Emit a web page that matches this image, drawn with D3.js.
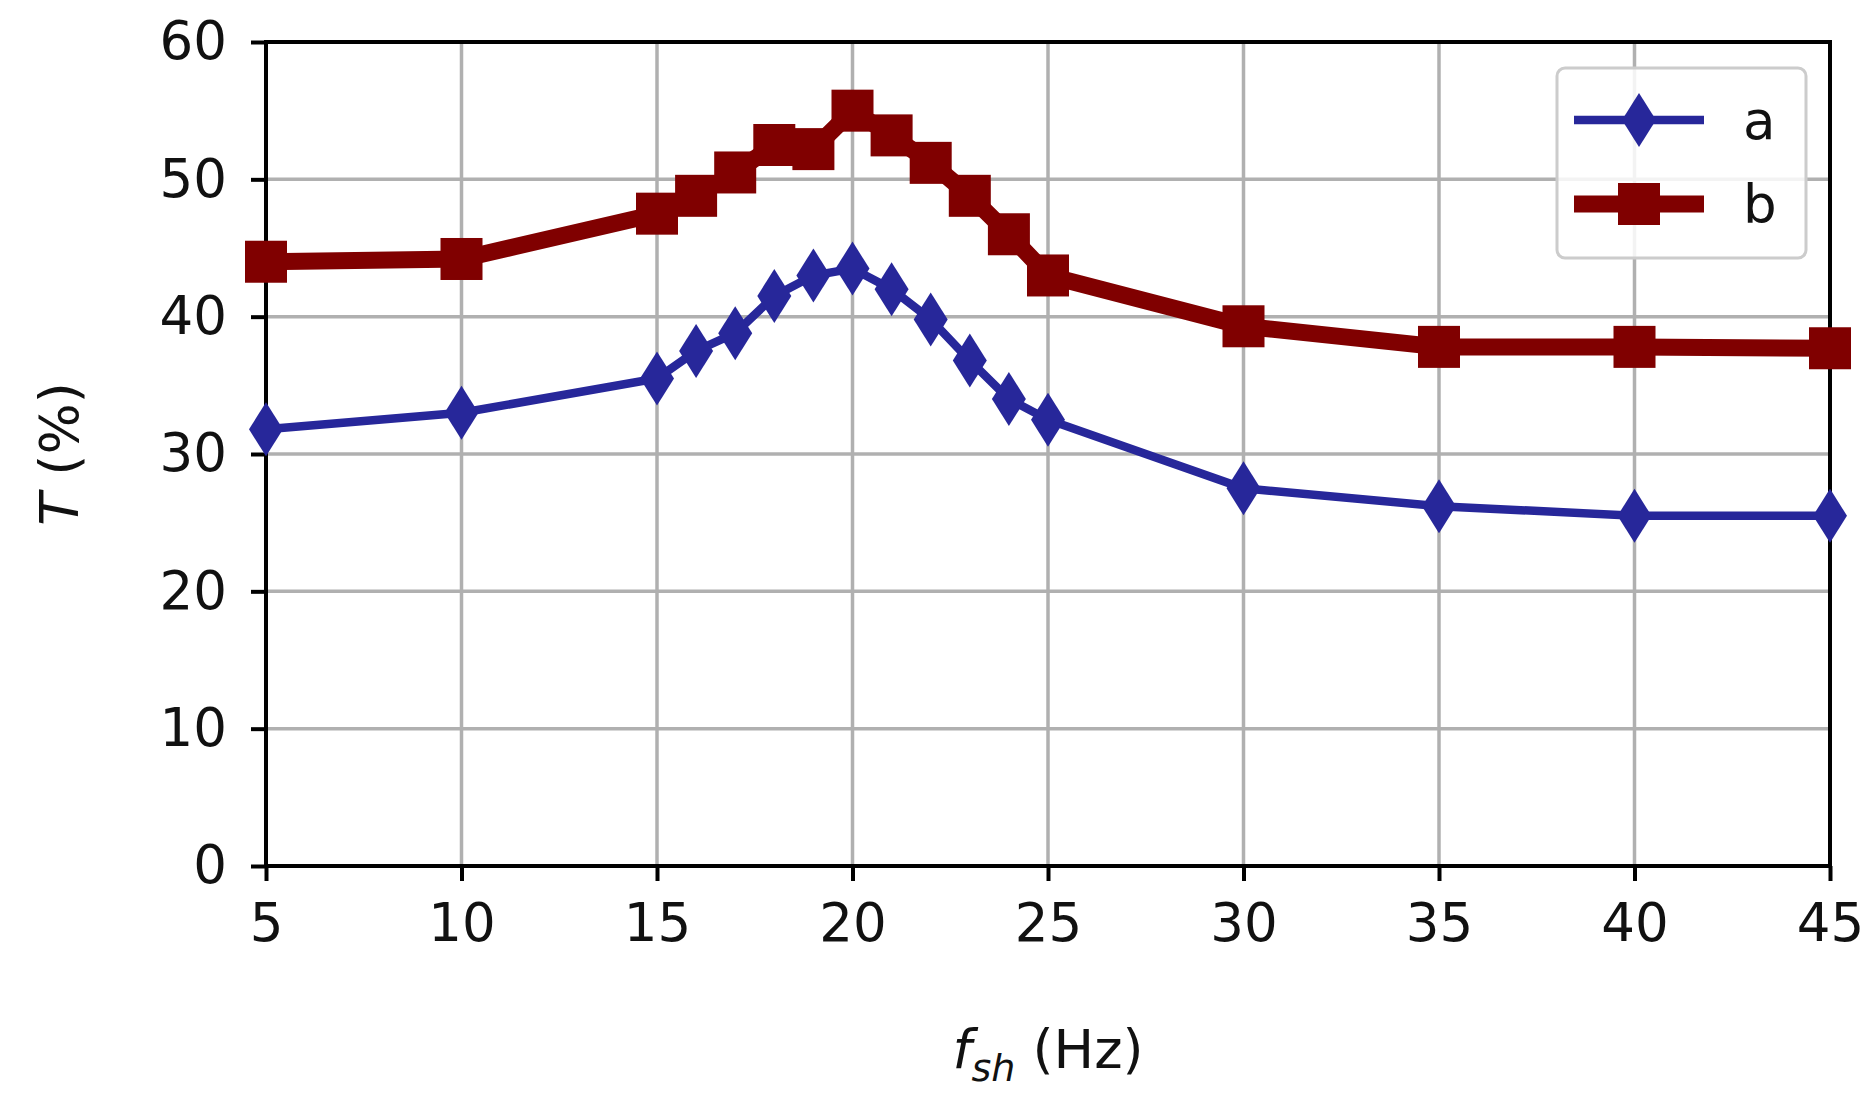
<!DOCTYPE html><html><head><meta charset="utf-8"><script src="https://cdn.jsdelivr.net/npm/d3@7"></script>
<style>body{margin:0;background:#fff}text{font-family:"DejaVu Sans",sans-serif;fill:#111}</style></head><body>
<svg id="c" width="1870" height="1099"></svg>
<script>
const xVals=[5,10,15,16,17,18,19,20,21,22,23,24,25,30,35,40,45];
const seriesA=[31.8,33,35.5,37.5,38.8,41.5,43,43.5,42,39.8,36.8,34,32.5,27.5,26.2,25.5,25.5];
const seriesB=[44,44.2,47.5,48.8,50.5,52.5,52.2,55,53.2,51.2,48.8,46,43,39.3,37.8,37.8,37.7];
const xTicks=[5,10,15,20,25,30,35,40,45];
const yTicks=[0,10,20,30,40,50,60];
const svg=d3.select("#c");
const L=266,R=1830,T=42,B=866;
const x=d3.scaleLinear().domain([5,45]).range([L,R]);
const y=d3.scaleLinear().domain([0,60]).range([B,T]);
const g=svg.append("g");
g.selectAll(".gx").data(xTicks).enter().append("line").attr("x1",d=>x(d)).attr("x2",d=>x(d)).attr("y1",T).attr("y2",B).attr("stroke","#b0b0b0").attr("stroke-width",3.5);
g.selectAll(".gy").data(yTicks).enter().append("line").attr("y1",d=>y(d)).attr("y2",d=>y(d)).attr("x1",L).attr("x2",R).attr("stroke","#b0b0b0").attr("stroke-width",3.5);
const xa=svg.append("g").attr("transform",`translate(0,${B})`).call(d3.axisBottom(x).tickValues(xTicks).tickSize(15).tickPadding(22).tickSizeOuter(0));
const ya=svg.append("g").attr("transform",`translate(${L},0)`).call(d3.axisLeft(y).tickValues(yTicks).tickSize(15).tickPadding(24).tickSizeOuter(0));
[xa,ya].forEach(a=>{a.select(".domain").remove();a.selectAll("line").attr("stroke","#000").attr("stroke-width",4);a.selectAll("text").style("font-size","53px").style("font-family","DejaVu Sans").attr("fill","#111");});
svg.append("rect").attr("x",L).attr("y",T).attr("width",R-L).attr("height",B-T).attr("fill","none").attr("stroke","#000").attr("stroke-width",4);
const line=d3.line().x((d,i)=>x(xVals[i])).y(d=>y(d));
const cA="#27279a",cB="#800000";
const pg=svg.append("g");
pg.append("path").datum(seriesB).attr("d",line).attr("fill","none").attr("stroke",cB).attr("stroke-width",17).attr("stroke-linejoin","round");
pg.selectAll(".mb").data(seriesB).enter().append("rect").attr("x",(d,i)=>x(xVals[i])-21).attr("y",d=>y(d)-21).attr("width",42).attr("height",42).attr("fill",cB);
pg.append("path").datum(seriesA).attr("d",line).attr("fill","none").attr("stroke",cA).attr("stroke-width",8.5);
const dia=(cx,cy)=>`M${cx},${cy-27}L${cx+17},${cy}L${cx},${cy+27}L${cx-17},${cy}Z`;
pg.selectAll(".ma").data(seriesA).enter().append("path").attr("d",(d,i)=>dia(x(xVals[i]),y(d))).attr("fill",cA);
const lg=svg.append("g");
lg.append("rect").attr("x",1557).attr("y",68).attr("width",249).attr("height",190).attr("rx",8).attr("fill","#fff").attr("fill-opacity",0.85).attr("stroke","#ccc").attr("stroke-width",3);
lg.append("line").attr("x1",1574).attr("x2",1704).attr("y1",120).attr("y2",120).attr("stroke",cA).attr("stroke-width",8.5);
lg.append("path").attr("d",dia(1639,120)).attr("fill",cA);
lg.append("line").attr("x1",1574).attr("x2",1704).attr("y1",204).attr("y2",204).attr("stroke",cB).attr("stroke-width",17);
lg.append("rect").attr("x",1618).attr("y",183).attr("width",42).attr("height",42).attr("fill",cB);
lg.append("text").attr("x",1743).attr("y",120).attr("dy","0.35em").style("font-size","53px").text("a");
lg.append("text").attr("x",1743).attr("y",204).attr("dy","0.35em").style("font-size","53px").text("b");
const yl=svg.append("text").attr("transform",`translate(78,${(T+B)/2}) rotate(-90)`).attr("text-anchor","middle").style("font-size","54px");
yl.append("tspan").style("font-style","italic").text("T");yl.append("tspan").text(" (%)");
const xl=svg.append("text").attr("x",(L+R)/2).attr("y",1068).attr("text-anchor","middle").style("font-size","54px");
xl.append("tspan").style("font-style","italic").text("f");
xl.append("tspan").style("font-style","italic").style("font-size","38px").attr("dy",13).text("sh");
xl.append("tspan").attr("dy",-13).text(" (Hz)");
</script></body></html>
